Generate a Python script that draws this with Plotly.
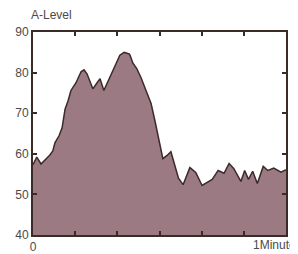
import plotly.graph_objects as go

# time in seconds (0..60 = 1 minute), A-level values
t = [0.0, 0.9, 1.9, 4.0, 4.7, 5.2, 6.2, 6.9, 7.6, 8.3, 9.0, 10.2, 11.4, 12.1, 12.8, 13.5,
     14.2, 15.2, 15.9, 16.8, 17.8, 18.7, 19.7, 20.6, 21.6, 22.8, 23.0, 23.7, 24.6, 25.6, 26.8,
     28.0, 28.9, 29.9, 30.8, 31.8, 32.7, 33.4, 34.1, 34.5, 35.6, 37.2, 38.6, 40.1, 42.5, 43.9,
     45.3, 46.5, 47.6, 49.3, 50.2, 51.1, 52.1, 53.2, 54.6, 55.7, 57.1, 58.8, 59.8, 60.0]
a_level = [57.3, 59.2, 57.5, 59.7, 60.7, 62.7, 64.5, 66.4, 71.0, 73.0, 75.6, 77.5, 80.2, 80.7, 79.7, 78.0,
           76.0, 77.5, 78.5, 75.6, 78.0, 80.0, 82.6, 84.3, 85.0, 84.6, 84.3, 82.3, 81.0, 78.8, 75.6,
           72.4, 68.2, 63.3, 58.8, 59.6, 60.5, 58.0, 55.2, 54.0, 52.4, 56.6, 55.4, 52.2, 53.7, 55.9,
           55.2, 57.6, 56.4, 53.2, 55.9, 53.7, 55.7, 52.7, 56.9, 55.9, 56.5, 55.5, 56.0, 55.9]

x_ticks = [0, 10, 20, 30, 40, 50, 60]
x_ticktext = ["0", "", "", "", "", "", ""]
x_end_label = "1Minute"
y_ticks = [40, 50, 60, 70, 80, 90]

fig = go.Figure()
fig.add_trace(go.Scatter(
    x=t, y=a_level, mode="lines",
    line=dict(color="#3a2a28", width=1.5),
    fill="tozeroy", fillcolor="#9c7a84",
    hoverinfo="skip", showlegend=False,
))

axis_color = "#3a2a28"
font = dict(family="Liberation Sans, Arial", size=12, color="#4a4a4a")
fig.update_xaxes(
    range=[0, 60], tickvals=x_ticks, ticktext=x_ticktext,
    ticks="inside", ticklen=4, tickwidth=2, tickcolor=axis_color,
    showline=True, linecolor=axis_color, linewidth=2, mirror="ticks",
    showgrid=False, zeroline=False, automargin=False, tickfont=font,
)
fig.update_yaxes(
    range=[40, 90], tickvals=y_ticks,
    ticks="inside", ticklen=4, tickwidth=2, tickcolor=axis_color,
    showline=True, linecolor=axis_color, linewidth=2, mirror="ticks",
    showgrid=False, zeroline=False, automargin=False, tickfont=font,
)
fig.update_layout(
    width=290, height=246,
    margin=dict(l=25, r=12, t=24, b=19),
    paper_bgcolor="white", plot_bgcolor="white",
    annotations=[
        dict(text="A-Level", xref="paper", yref="paper", x=-0.015, y=1.0,
             xanchor="left", yanchor="bottom", yshift=8, showarrow=False, font=font),
        dict(text=x_end_label, xref="paper", yref="paper", x=1.0, y=0,
             xanchor="right", yanchor="top", xshift=12, yshift=-1, showarrow=False, font=font),
    ],
)
fig.write_html("out.html")
